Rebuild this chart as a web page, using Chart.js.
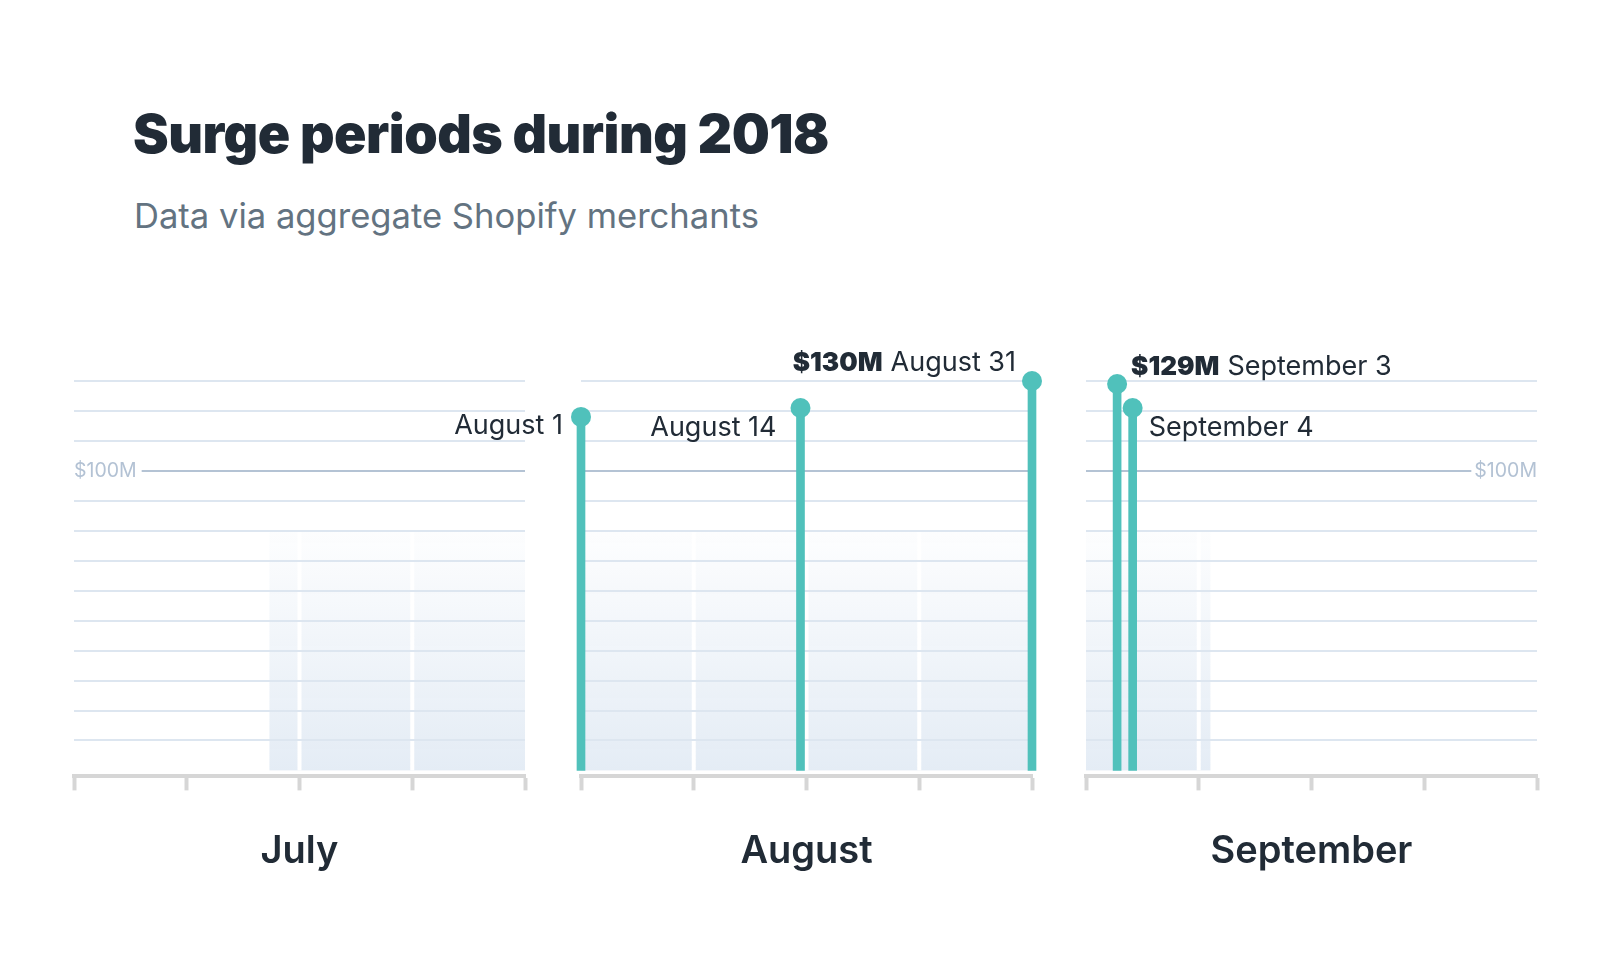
<!DOCTYPE html>
<html>
<head>
<meta charset="utf-8">
<title>Surge periods during 2018</title>
<script src="https://cdn.jsdelivr.net/npm/chart.js@4.4.1/dist/chart.umd.min.js"></script>
<style>
    html, body { margin: 0; background: #fff; }
    body {
        width: 1620px; height: 964px; position: relative; overflow: hidden;
        font-family: Inter, "Noto Sans", sans-serif; color: #212b36;
    }
    h1 {
        position: absolute; left: 133px; top: 107px; margin: 0;
        font-size: 53.6px; line-height: 53.6px; font-weight: 900; letter-spacing: -0.5px;
    }
    .subtitle {
        position: absolute; left: 134px; top: 198px; margin: 0;
        font-size: 34.6px; line-height: 34.6px; font-weight: 400; color: #637381;
    }
    canvas { position: absolute; top: 300px; }
</style>
</head>
<body>
<h1>Surge periods during 2018</h1>
<p class="subtitle">Data via aggregate Shopify merchants</p>
<canvas id="chart-july" width="771" height="600"></canvas>
<canvas id="chart-august" width="771" height="600"></canvas>
<canvas id="chart-september" width="771" height="600"></canvas>

<script>
// ---- data (sales in $M, x = day of month as placed on the axis) ----
const months = ['July', 'August', 'September'];
const monthDays = [31, 31, 30];

const augustDays = [1, 15.6, 31];
const augustSales = [118, 121, 130];
const augustLabels = ['August 1', 'August 14', 'August 31'];
const augustTags = ['', '', '$130M'];

const septemberDays = [3, 4];
const septemberSales = [129, 121];
const septemberLabels = ['September 3', 'September 4'];
const septemberTags = ['$129M', ''];

// shaded surge window, [from day, to day]
const julySurge = [[14, 31]];
const augustSurge = [[1, 31]];
const septemberSurge = [[1, 9]];

const gridValues = [10, 20, 30, 40, 50, 60, 70, 80, 90, 100, 110, 120, 130];
const markValue = 100;
const markLabel = '$100M';

// ---- styles ----
const INK = '#212b36';
const TEAL = '#50c1bb';
const GRID = '#dde6f0';
const MARK_LINE = '#b4c3d4';
const MARK_TEXT = '#b3c2d4';
const AXIS = '#d6d6d6';
const FONT = 'Inter, "Noto Sans", sans-serif';
const SHADE_TOP = 80;

const PANEL_LEFT = [74, 581, 1086];
const PANEL_WIDTH = 451;
const SIDE = 160;

const augustPlacement = [
    { align: 'right', dx: -18, dy: 17 },
    { align: 'right', dx: -24, dy: 28 },
    { align: 'right', dx: -16, dy: -10 }
];
const septemberPlacement = [
    { align: 'left', dx: 14, dy: -9 },
    { align: 'left', dx: 16, dy: 28 }
];

Chart.defaults.font.family = FONT;

/**
 * Shaded surge window, drawn before the grid so the lines sit on top
 */
const surgeShade = {
    id: 'surgeShade',
    beforeDraw(chart, args, opts) {
        const ranges = opts.ranges || [];
        const { ctx, scales: { x, y } } = chart;
        const top = y.getPixelForValue(SHADE_TOP);
        const bottom = y.getPixelForValue(0);
        const grad = ctx.createLinearGradient(0, top, 0, bottom);
        grad.addColorStop(0, 'rgba(228, 236, 245, 0.08)');
        grad.addColorStop(1, 'rgba(228, 236, 245, 1)');
        ctx.save();
        ranges.forEach(([from, to]) => {
            const x0 = x.getPixelForValue(from);
            const x1 = x.getPixelForValue(to);
            ctx.fillStyle = grad;
            ctx.fillRect(x0, top, x1 - x0, bottom - top);
            // white gaps at the week ticks inside the window
            ctx.fillStyle = '#fff';
            x.ticks.forEach(t => {
                if (t.value > from && t.value < to) {
                    ctx.fillRect(x.getPixelForValue(t.value) - 2, top, 4, bottom - top);
                }
            });
        });
        ctx.restore();
    }
};

/**
 * Date labels next to each peak dot
 */
const stemLabels = {
    id: 'stemLabels',
    afterDatasetsDraw(chart, args, opts) {
        if (!opts.labels) return;
        const dots = chart.getDatasetMeta(1).data;
        const ctx = chart.ctx;
        const bold = `900 26px ${FONT}`;
        const reg = `400 27px ${FONT}`;
        ctx.save();
        ctx.fillStyle = INK;
        ctx.textBaseline = 'alphabetic';
        ctx.textAlign = 'left';
        opts.labels.forEach((text, i) => {
            const p = dots[i];
            const place = opts.placement[i];
            const tag = opts.tags[i];
            ctx.font = bold;
            const tagW = tag ? ctx.measureText(tag).width + 8 : 0;
            ctx.font = reg;
            const textW = ctx.measureText(text).width;
            let x = p.x + place.dx;
            const y = p.y + place.dy;
            if (place.align === 'right') x -= tagW + textW;
            if (tag) {
                ctx.font = bold;
                ctx.fillText(tag, x, y);
            }
            ctx.font = reg;
            ctx.fillText(text, x + tagW, y);
        });
        ctx.restore();
    }
};

function weekTicks(days) {
    const q = (days - 1) / 4;
    return [0, 1, 2, 3, 4].map(k => ({ value: 1 + k * q }));
}

function buildPanel(id, i, cfg) {
    const canvas = document.getElementById(id);
    canvas.style.left = (PANEL_LEFT[i] - SIDE) + 'px';
    const points = (cfg.days || []).map((d, k) => ({ x: d, y: cfg.sales[k] }));

    return new Chart(canvas, {
        type: 'bar',
        data: {
            datasets: [{
                type: 'bar',
                data: points,
                backgroundColor: TEAL,
                barThickness: 8,
                clip: false,
                order: 1
            }, {
                type: 'line',
                data: points,
                showLine: false,
                pointRadius: 10,
                pointHoverRadius: 10,
                pointBackgroundColor: TEAL,
                pointBorderWidth: 0,
                clip: false,
                order: 0
            }]
        },
        options: {
            responsive: false,
            animation: false,
            events: [],
            layout: {
                padding: { left: SIDE, right: canvas.width - SIDE - PANEL_WIDTH, top: 81, bottom: 18 }
            },
            plugins: {
                legend: { display: false },
                tooltip: { enabled: false },
                surgeShade: { ranges: cfg.surge },
                stemLabels: { labels: cfg.labels, tags: cfg.tags, placement: cfg.placement }
            },
            scales: {
                x: {
                    type: 'linear',
                    min: 1,
                    max: monthDays[i],
                    offset: false,
                    afterBuildTicks: axis => { axis.ticks = weekTicks(monthDays[i]); },
                    grid: {
                        offset: false,
                        drawOnChartArea: false,
                        drawTicks: true,
                        tickLength: 14,
                        tickWidth: 4,
                        tickColor: AXIS
                    },
                    border: { display: true, color: AXIS, width: 4 },
                    ticks: { display: false },
                    title: {
                        display: true,
                        text: months[i],
                        color: INK,
                        font: { size: 38, weight: '600' },
                        padding: { top: 38, bottom: 8 }
                    }
                },
                y: {
                    type: 'linear',
                    min: -2,
                    max: 130,
                    position: i === 2 ? 'right' : 'left',
                    afterBuildTicks: axis => { axis.ticks = gridValues.map(v => ({ value: v })); },
                    grid: {
                        color: c => (c.tick && c.tick.value === markValue ? MARK_LINE : GRID),
                        lineWidth: 2,
                        drawTicks: false
                    },
                    border: { display: false },
                    ticks: {
                        display: cfg.showMark,
                        mirror: true,
                        padding: 0,
                        autoSkip: false,
                        color: MARK_TEXT,
                        font: { size: 19.5 },
                        callback: v => (v === markValue ? markLabel : ''),
                        showLabelBackdrop: c => !!(c.tick && c.tick.value === markValue),
                        backdropColor: '#fff',
                        backdropPadding: { top: 4, bottom: 4, left: 3, right: 5 }
                    }
                }
            }
        },
        plugins: [surgeShade, stemLabels]
    });
}

buildPanel('chart-july', 0, { surge: julySurge, showMark: true });
buildPanel('chart-august', 1, {
    days: augustDays, sales: augustSales, labels: augustLabels, tags: augustTags,
    placement: augustPlacement, surge: augustSurge, showMark: false
});
buildPanel('chart-september', 2, {
    days: septemberDays, sales: septemberSales, labels: septemberLabels, tags: septemberTags,
    placement: septemberPlacement, surge: septemberSurge, showMark: true
});
</script>
</body>
</html>
